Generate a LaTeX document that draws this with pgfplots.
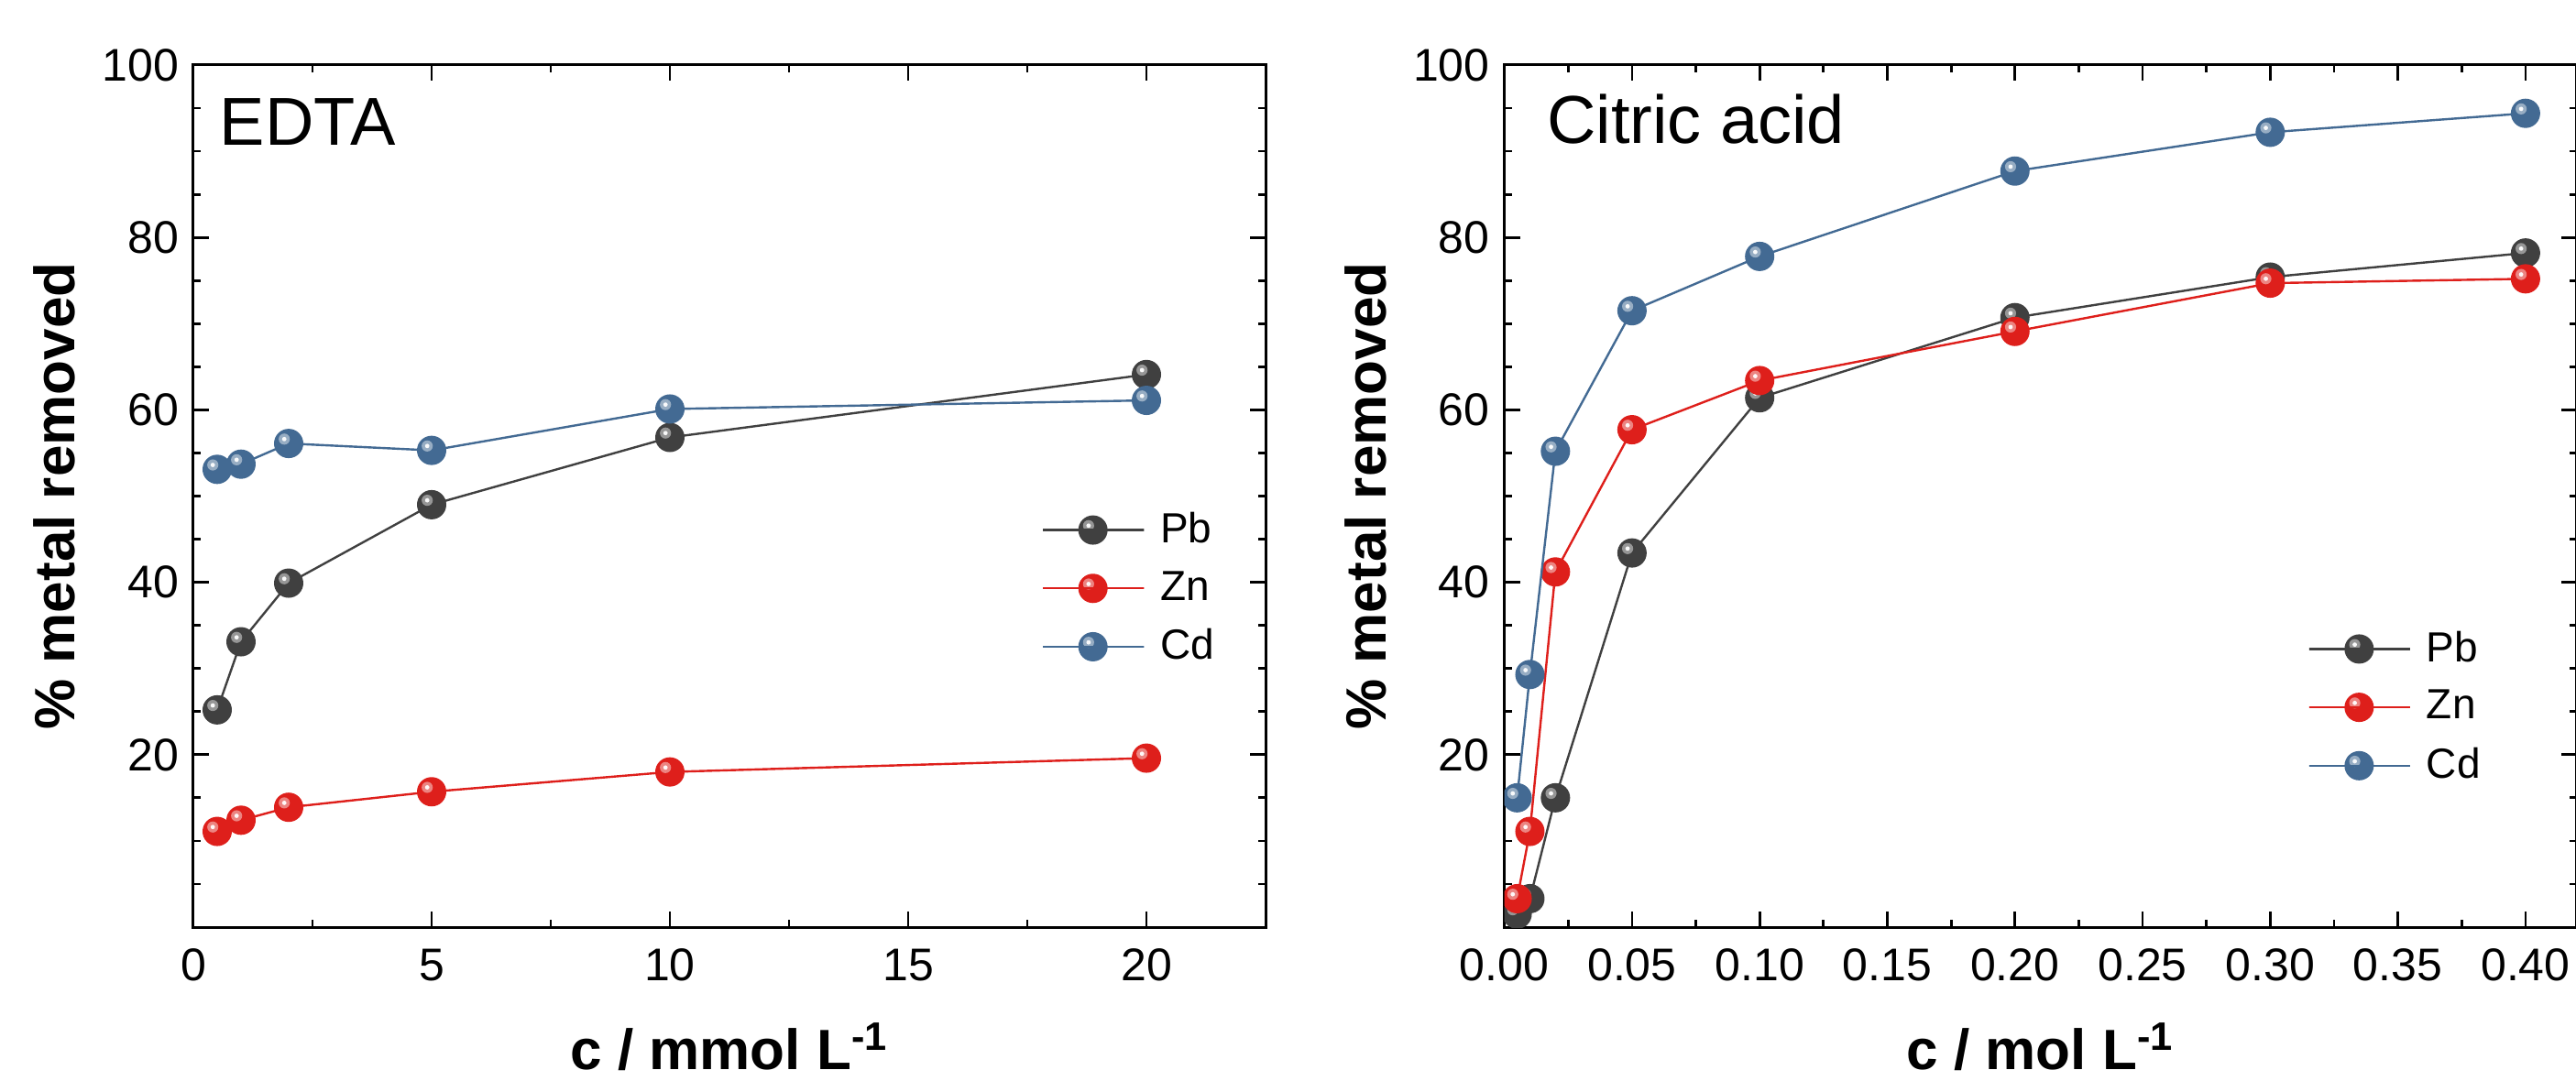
\documentclass[border=0pt]{standalone}
\usepackage{fontspec}
\setmainfont{Liberation Sans}
\usepackage{pgfplots}
\pgfplotsset{compat=1.18}
\definecolor{pbcol}{HTML}{404040}
\definecolor{zncol}{HTML}{DE1F1B}
\definecolor{cdcol}{HTML}{436A93}
\pgfdeclareplotmark{sphere}{%
  \pgfpathcircle{\pgfpointorigin}{\pgfplotmarksize}\pgfusepathqfill
  \begin{pgfscope}
    \pgfsetfillcolor{white}\pgfsetfillopacity{0.45}
    \pgfpathcircle{\pgfpoint{-0.3\pgfplotmarksize}{0.3\pgfplotmarksize}}{0.38\pgfplotmarksize}\pgfusepathqfill
    \pgfsetfillopacity{0.95}
    \pgfpathcircle{\pgfpoint{-0.3\pgfplotmarksize}{0.3\pgfplotmarksize}}{0.15\pgfplotmarksize}\pgfusepathqfill
  \end{pgfscope}
}
\pgfplotsset{
  myaxis/.style={
    scale only axis, width=292.5pt, height=235.25pt,
    anchor=south west,
    ymin=0, ymax=100, ytick={20,40,60,80,100}, minor ytick={5,10,...,95},
    tick align=inside, major tick length=4.25pt, minor tick length=2pt,
    every tick/.style={line width=0.7pt, black},
    axis line style={line width=0.75pt},
    ticklabel style={font=\fontsize{12.5}{12.5}\selectfont},
    /pgf/number format/assume math mode=true,
    xticklabel style={yshift=-2.4pt},
    yticklabel style={xshift=-0.5pt},
    ylabel={\% metal removed},
    every axis y label/.style={at={([xshift=-32.25pt]axis description cs:0,0.5)}, rotate=90, anchor=base, font=\bfseries\fontsize{15.5}{15.5}\selectfont},
    every axis x label/.style={at={([yshift=-38.75pt]axis description cs:0.5,0)}, anchor=base, font=\bfseries\fontsize{15.5}{15.5}\selectfont},
    clip marker paths=true,
    legend cell align=left,
    legend image code/.code={%
      \draw[##1, mark=none] (0pt,0pt) -- (8.25pt,0pt);
      \draw[##1, mark=none] (19pt,0pt) -- (27.5pt,0pt);
      \draw[##1, draw=none] plot coordinates {(13.6pt,0pt)};
      \path (0pt,0pt) rectangle (27.5pt,0pt);},
    legend style={draw=none, fill=none, inner sep=0pt, outer sep=0pt, anchor=north west,
      font=\fontsize{11.5}{11.5}\selectfont, row sep=2.3pt,
      /tikz/every odd column/.append style={column sep=2.2pt}},
  },
  pb/.style={color=pbcol, line width=0.6pt, mark=sphere, mark size=4pt, mark options={fill=pbcol, draw=none, solid}},
  zn/.style={color=zncol, line width=0.6pt, mark=sphere, mark size=4pt, mark options={fill=zncol, draw=none, solid}},
  cd/.style={color=cdcol, line width=0.6pt, mark=sphere, mark size=4pt, mark options={fill=cdcol, draw=none, solid}},
}
\begin{document}
\begin{tikzpicture}
\begin{axis}[myaxis, at={(0pt,0pt)},
  xmin=0, xmax=22.5, xtick={0,5,10,15,20}, minor x tick num=1,
  xlabel={c / mmol L\textsuperscript{-1}},
  legend style={at={(axis description cs:0.7915,0.49)}}]
\addplot[pb] coordinates {(0.5,25.2)(1,33.1)(2,39.9)(5,49.0)(10,56.8)(20,64.1)};
\addplot[zn] coordinates {(0.5,11.1)(1,12.4)(2,13.9)(5,15.7)(10,18.0)(20,19.6)};
\addplot[cd] coordinates {(0.5,53.1)(1,53.7)(2,56.1)(5,55.3)(10,60.1)(20,61.1)};
\legend{Pb,Zn,Cd}
\node[anchor=base west, inner sep=0pt, font=\fontsize{18.5}{18.5}\selectfont] at ([xshift=7pt,yshift=-22pt]axis description cs:0,1) {EDTA};
\end{axis}
\begin{axis}[myaxis, at={(357.65pt,0pt)},
  xmin=0, xmax=0.42, xtick={0,0.05,...,0.40}, minor x tick num=1,
  scaled x ticks=false,
  xticklabel style={/pgf/number format/.cd, fixed, fixed zerofill, precision=2},
  xlabel={c / mol L\textsuperscript{-1}},
  legend style={at={(axis description cs:0.7497,0.352)}}]
\addplot[pb] coordinates {(0.005,1.5)(0.01,3.3)(0.02,15.0)(0.05,43.4)(0.1,61.4)(0.2,70.7)(0.3,75.4)(0.4,78.2)};
\addplot[zn] coordinates {(0.005,3.3)(0.01,11.1)(0.02,41.2)(0.05,57.7)(0.1,63.4)(0.2,69.1)(0.3,74.7)(0.4,75.2)};
\addplot[cd] coordinates {(0.005,15.0)(0.01,29.3)(0.02,55.2)(0.05,71.5)(0.1,77.8)(0.2,87.7)(0.3,92.2)(0.4,94.4)};
\legend{Pb,Zn,Cd}
\node[anchor=base west, inner sep=0pt, font=\fontsize{18.5}{18.5}\selectfont] at ([xshift=11.5pt,yshift=-21.5pt]axis description cs:0,1) {Citric acid};
\end{axis}
\pgfresetboundingbox
\useasboundingbox (-52.75pt,-41.75pt) rectangle (650pt,253pt);
\end{tikzpicture}
\end{document}
